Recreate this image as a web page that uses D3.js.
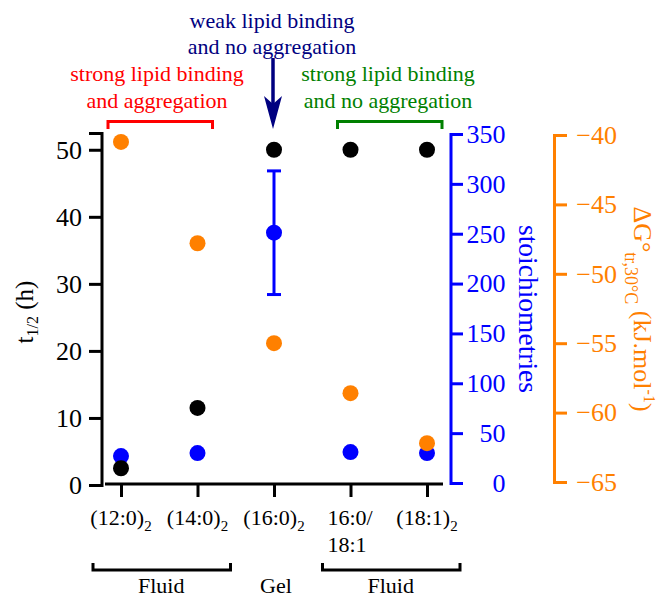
<!DOCTYPE html>
<html>
<head>
<meta charset="utf-8">
<script src="https://cdn.jsdelivr.net/npm/d3@7"></script>
<style>
  body { margin: 0; background: #fff; }
  svg text { font-family: "Liberation Serif", "Times New Roman", serif; }
</style>
</head>
<body>
<div id="chart"></div>
<script>
// data
const categories = ["(12:0)2", "(14:0)2", "(16:0)2", "16:0/18:1", "(18:1)2"];
const halfLife = [2.5, 11.5, 50, 50, 50];          // t1/2 (h), left axis
const stoich = [27, 30, 251, 31, 30];              // stoichiometries, blue axis
const stoichErr = [0, 0, 62, 0, 0];
const deltaG = [-40.5, -47.8, -55.0, -58.6, -62.2]; // kJ/mol, orange axis
const halfLifeTicks = [0, 10, 20, 30, 40, 50];
const stoichTicks = [0, 50, 100, 150, 200, 250, 300, 350];
const deltaGTicks = [-65, -60, -55, -50, -45, -40];
const phaseLabels = ["Fluid", "Gel", "Fluid"];
const phaseSpans = [[0, 1], [2, 2], [3, 4]];

const W = 659, H = 598;
const BLUE = "#0000ff", ORANGE = "#ff8000", NAVY = "#000080", RED = "#ff0000", GREEN = "#008000";

const svg = d3.select("#chart").append("svg")
    .attr("width", W).attr("height", H);

const x = d3.scalePoint().domain(categories).range([121, 427]);
const yL = d3.scaleLinear().domain([0, 52.5]).range([485, 133]);
const yB = d3.scaleLinear().domain([0, 350]).range([483, 134]);
const yO = d3.scaleLinear().domain([-65, -40]).range([482, 135]);

let styleAxis = function (g, color, size) {
    g.selectAll("path, line").attr("stroke", color).attr("stroke-width", 3);
    g.selectAll("text").attr("fill", color).attr("font-size", size)
        .attr("font-family", "Liberation Serif, Times New Roman, serif");
}

// left axis
svg.append("g")
    .attr("transform", "translate(101.5,0)")
    .call(d3.axisLeft(yL).tickValues(halfLifeTicks).tickSizeOuter(0).tickSize(12.5).tickPadding(7))
    .call(g => styleAxis(g, "#000", 26));

// blue axis
let gB = svg.append("g")
    .attr("transform", "translate(450.5,0)")
    .call(d3.axisRight(yB).tickValues(stoichTicks).tickSizeOuter(0).tickSize(12.5))
    .call(g => styleAxis(g, BLUE, 26));
gB.selectAll(".tick text").attr("text-anchor", "end").attr("x", 55);

// orange axis
let gO = svg.append("g")
    .attr("transform", "translate(554,0)")
    .call(d3.axisRight(yO).tickValues(deltaGTicks).tickSizeOuter(0).tickSize(13))
    .call(g => styleAxis(g, ORANGE, 26));
gO.selectAll(".tick text").attr("text-anchor", "end").attr("x", 63);

// bottom axis
let gX = svg.append("g")
    .attr("transform", "translate(0,484)")
    .call(d3.axisBottom(x).tickSize(13).tickSizeOuter(0).tickFormat(""))
    .call(g => styleAxis(g, "#000", 22));
gX.select(".domain").attr("d", "M105,0H443");

// x tick labels with subscripts
categories.forEach(function (c) {
    let t = svg.append("text").attr("font-size", 22).attr("fill", "#000");
    if (c.indexOf("/") >= 0) {
        let parts = c.split("/");
        t.attr("x", x(c) - 23).attr("y", 525).attr("text-anchor", "start");
        t.append("tspan").text(parts[0] + "/");
        t.append("tspan").attr("x", x(c) - 23).attr("dy", 27).text(parts[1]);
    } else {
        t.attr("x", x(c)).attr("y", 525).attr("text-anchor", "middle");
        t.append("tspan").text(c.slice(0, -1));
        t.append("tspan").attr("font-size", 15).attr("dy", 6).text(c.slice(-1));
    }
});

// phase brackets below
phaseSpans.forEach(function (s, i) {
    let x0 = x(categories[s[0]]) - 28, x1 = x(categories[s[1]]) + 33;
    if (s[0] !== s[1]) {
        svg.append("path")
            .attr("d", `M${x0},563V570H${x1}V563`)
            .attr("fill", "none").attr("stroke", "#000").attr("stroke-width", 3);
    }
    svg.append("text")
        .attr("x", (x(categories[s[0]]) + x(categories[s[1]])) / 2 + 2)
        .attr("y", 593).attr("text-anchor", "middle").attr("font-size", 22)
        .text(phaseLabels[i]);
});

// error bar
let err = svg.append("g").attr("stroke", BLUE).attr("stroke-width", 3);
stoich.forEach(function (v, i) {
    if (!stoichErr[i]) return;
    let cx = x(categories[i]);
    err.append("line").attr("x1", cx).attr("x2", cx)
        .attr("y1", yB(v - stoichErr[i])).attr("y2", yB(v + stoichErr[i]));
    [v - stoichErr[i], v + stoichErr[i]].forEach(e => err.append("line")
        .attr("x1", cx - 7).attr("x2", cx + 7).attr("y1", yB(e)).attr("y2", yB(e)));
});

// points: blue, then black, then orange on top
const R = 8;
svg.append("g").selectAll("circle").data(stoich).join("circle")
    .attr("cx", (d, i) => x(categories[i])).attr("cy", d => yB(d)).attr("r", R).attr("fill", BLUE);
svg.append("g").selectAll("circle").data(halfLife).join("circle")
    .attr("cx", (d, i) => x(categories[i])).attr("cy", d => yL(d)).attr("r", R).attr("fill", "#000");
svg.append("g").selectAll("circle").data(deltaG).join("circle")
    .attr("cx", (d, i) => x(categories[i])).attr("cy", d => yO(d)).attr("r", R).attr("fill", ORANGE);

// axis titles
let tL = svg.append("text").attr("transform", "translate(33,312) rotate(-90)")
    .attr("text-anchor", "middle").attr("font-size", 25);
tL.append("tspan").text("t");
tL.append("tspan").attr("font-size", 16).attr("dy", 5).text("1/2");
tL.append("tspan").attr("dy", -5).text(" (h)");

svg.append("text").attr("transform", "translate(519,309) rotate(90)")
    .attr("text-anchor", "middle").attr("font-size", 27.5).attr("fill", BLUE)
    .text("stoichiometries");

let tO = svg.append("text").attr("transform", "translate(634,309) rotate(90)")
    .attr("text-anchor", "middle").attr("font-size", 26).attr("fill", ORANGE);
tO.append("tspan").text("ΔG°");
tO.append("tspan").attr("font-size", 18).attr("dy", 9).text("tr,30°C");
tO.append("tspan").attr("dy", -9).text(" (kJ.mol");
tO.append("tspan").attr("font-size", 16).attr("dy", -10).text("-1");
tO.append("tspan").attr("dy", 10).text(")");

// top annotations
let annot = function (lines, cx, color) {
    lines.forEach((l, i) => svg.append("text")
        .attr("x", cx).attr("y", lines.length === 2 && color === NAVY ? 28 + i * 26 : 81 + i * 27)
        .attr("text-anchor", "middle").attr("font-size", 22).attr("fill", color).text(l));
}
annot(["weak lipid binding", "and no aggregation"], 272, NAVY);
annot(["strong lipid binding", "and aggregation"], 157, RED);
annot(["strong lipid binding", "and no aggregation"], 388, GREEN);

let topBracket = function (i0, i1, color) {
    let x0 = x(categories[i0]) - 13, x1 = x(categories[i1]) + 15;
    svg.append("path").attr("d", `M${x0},129V121.5H${x1}V129`)
        .attr("fill", "none").attr("stroke", color).attr("stroke-width", 3);
}
topBracket(0, 1, RED);
topBracket(3, 4, GREEN);

// arrow to the gel column
let ax = x(categories[2]) - 1;
svg.append("line").attr("x1", ax).attr("x2", ax).attr("y1", 58).attr("y2", 110)
    .attr("stroke", NAVY).attr("stroke-width", 3.5);
svg.append("path")
    .attr("d", `M${ax},129L${ax - 9},96L${ax},104L${ax + 9},96Z`)
    .attr("fill", NAVY);
</script>
</body>
</html>
